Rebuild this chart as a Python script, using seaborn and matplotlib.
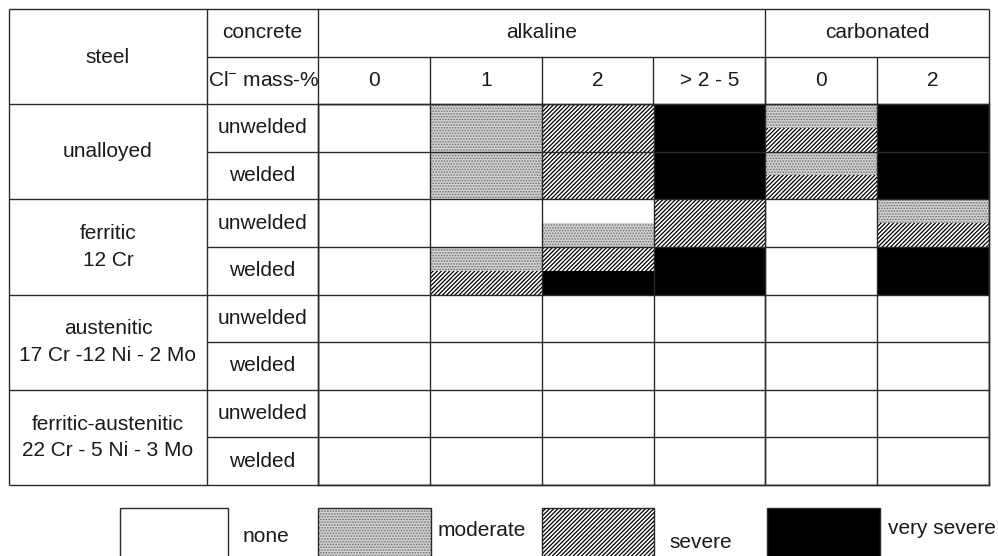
import matplotlib
matplotlib.use('Agg')
import matplotlib.pyplot as plt
import seaborn as sns
from matplotlib.patches import Rectangle

# --- data -------------------------------------------------------------
levels = ['none', 'moderate', 'severe', 'very severe']
concrete_groups = ['alkaline', 'carbonated']
group_spans = [4, 2]
chloride = ['0', '1', '2', '> 2 - 5', '0', '2']
steels = ['unalloyed', 'ferritic\n12 Cr', 'austenitic\n17 Cr -12 Ni - 2 Mo',
          'ferritic-austenitic\n22 Cr - 5 Ni - 3 Mo']
conditions = ['unwelded', 'welded']

# attack level per cell, upper half and lower half of each row
# (rows: steel x condition, columns: chloride content)
upper_half = [
    [0, 1, 2, 3, 1, 3],
    [0, 1, 2, 3, 1, 3],
    [0, 0, 0, 2, 0, 1],
    [0, 1, 2, 3, 0, 3],
    [0, 0, 0, 0, 0, 0],
    [0, 0, 0, 0, 0, 0],
    [0, 0, 0, 0, 0, 0],
    [0, 0, 0, 0, 0, 0],
]
lower_half = [
    [0, 1, 2, 3, 2, 3],
    [0, 1, 2, 3, 2, 3],
    [0, 0, 1, 2, 0, 2],
    [0, 2, 3, 3, 0, 3],
    [0, 0, 0, 0, 0, 0],
    [0, 0, 0, 0, 0, 0],
    [0, 0, 0, 0, 0, 0],
    [0, 0, 0, 0, 0, 0],
]

# --- style ------------------------------------------------------------
sns.set_theme(style='white')
plt.rcParams['font.family'] = ['Liberation Sans', 'DejaVu Sans']
plt.rcParams['mathtext.default'] = 'regular'

styles = {
    0: dict(facecolor='white', edgecolor='white', hatch=None),
    1: dict(facecolor='#d2d2d2', edgecolor='#6e6e6e', hatch='......'),
    2: dict(facecolor='white', edgecolor='black', hatch='////////'),
    3: dict(facecolor='black', edgecolor='black', hatch=None),
}
hatch_lw = {0: 1.0, 1: 0.8, 2: 0.9, 3: 1.0}
FS = 15
TXT = '#1a1a1a'
LINE = '#2a2a2a'

W, H = 998, 556
fig = plt.figure(figsize=(W / 100, H / 100), dpi=100)

# table geometry in pixels
x_left, x_steel, x_cond, x_right = 9, 207, 318, 989
y_top, y_mid, y_head, y_bottom = 9, 57, 104, 485
n_cols = len(chloride)
n_rows = len(upper_half)
col_w = (x_right - x_cond) / n_cols
row_h = (y_bottom - y_head) / n_rows

# frame axes in pixel coordinates
fr = fig.add_axes([0, 0, 1, 1])
fr.set_xlim(0, W)
fr.set_ylim(H, 0)
fr.axis('off')

# data axes: one unit per cell
ax = fig.add_axes([x_cond / W, 1 - y_bottom / H,
                   (x_right - x_cond) / W, (y_bottom - y_head) / H])
for r in range(n_rows):
    for half, data in ((0, upper_half), (0.5, lower_half)):
        for lvl in range(1, 4):
            xs = [c for c in range(n_cols) if data[r][c] == lvl]
            if xs:
                with plt.rc_context({'hatch.linewidth': hatch_lw[lvl]}):
                    ax.bar(xs, 0.5, bottom=r + half, width=1, align='edge',
                           linewidth=0, **styles[lvl])
ax.set_xlim(0, n_cols)
ax.set_ylim(n_rows, 0)
ax.set_xticks(range(n_cols + 1))
ax.set_yticks(range(n_rows + 1))
ax.tick_params(length=0, labelbottom=False, labelleft=False)
ax.grid(True, color=LINE, linewidth=1.0)
ax.set_axisbelow(False)
for s in ax.spines.values():
    s.set_color(LINE)
    s.set_linewidth(1.0)
ax.patch.set_alpha(0)

# header / left frame lines
lw = 1.0
fr.hlines([y_top, y_bottom], x_left, x_right, color=LINE, lw=lw)
fr.vlines([x_left, x_steel, x_cond, x_right], y_top, y_bottom, color=LINE, lw=lw)
fr.hlines(y_mid, x_steel, x_right, color=LINE, lw=lw)
fr.hlines(y_head, x_left, x_right, color=LINE, lw=lw)
edge = 0
for span in group_spans[:-1]:
    edge += span
    fr.vlines(x_cond + edge * col_w, y_top, y_bottom, color=LINE, lw=lw)
for c in range(1, n_cols):
    fr.vlines(x_cond + c * col_w, y_mid, y_head, color=LINE, lw=lw)
for r in range(1, n_rows):
    y = y_head + r * row_h
    fr.hlines(y, x_steel, x_cond, color=LINE, lw=lw)
    if r % 2 == 0:
        fr.hlines(y, x_left, x_steel, color=LINE, lw=lw)

# header texts
fr.text((x_left + x_steel) / 2, (y_top + y_head) / 2 + 1, 'steel',
        ha='center', va='center', fontsize=FS, color=TXT)
fr.text((x_steel + x_cond) / 2, (y_top + y_mid) / 2, 'concrete',
        ha='center', va='center', fontsize=FS, color=TXT)
fr.text((x_steel + x_cond) / 2 + 1, (y_mid + y_head) / 2, r'Cl$^{-}$ mass-%',
        ha='center', va='center', fontsize=FS, color=TXT)
start = 0
for name, span in zip(concrete_groups, group_spans):
    fr.text(x_cond + (start + span / 2) * col_w, (y_top + y_mid) / 2, name,
            ha='center', va='center', fontsize=FS, color=TXT)
    start += span
for c, lab in enumerate(chloride):
    fr.text(x_cond + (c + 0.5) * col_w, (y_mid + y_head) / 2, lab,
            ha='center', va='center', fontsize=FS, color=TXT)

# row labels
for g, name in enumerate(steels):
    fr.text((x_left + x_steel) / 2, y_head + (2 * g + 1) * row_h, name,
            ha='center', va='center', fontsize=FS, color=TXT, linespacing=1.5)
for r in range(n_rows):
    fr.text((x_steel + x_cond) / 2, y_head + (r + 0.5) * row_h,
            conditions[r % 2], ha='center', va='center', fontsize=FS, color=TXT)

# legend
leg_boxes = [(120, 228), (318, 431), (542, 654), (767, 880)]
leg_text = [(266, 537), (482, 531), (701, 543), (942, 528)]
for lvl, ((bx0, bx1), (tx, ty)) in enumerate(zip(leg_boxes, leg_text)):
    st = styles[lvl]
    with plt.rc_context({'hatch.linewidth': hatch_lw[lvl]}):
        fr.add_patch(Rectangle((bx0, 508), bx1 - bx0, 60, facecolor=st['facecolor'],
                               edgecolor=st['edgecolor'], hatch=st['hatch'],
                               linewidth=0))
    fr.add_patch(Rectangle((bx0, 508), bx1 - bx0, 60, facecolor='none',
                           edgecolor=LINE, linewidth=1.0))
    fr.text(tx, ty, levels[lvl], ha='center', va='center', fontsize=FS, color=TXT)

fig.savefig('out.png', dpi=100)
